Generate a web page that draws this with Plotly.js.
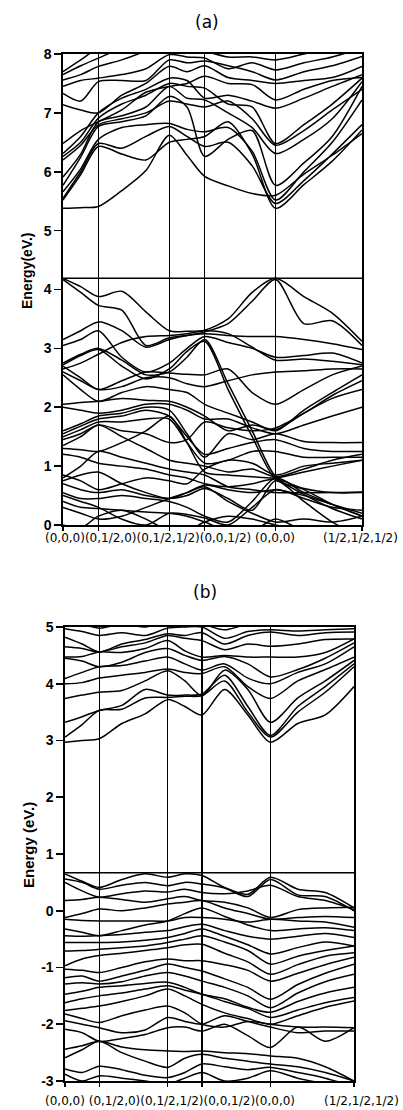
<!DOCTYPE html>
<html>
<head>
<meta charset="utf-8">
<script src="https://cdn.plot.ly/plotly-3.0.1.min.js"></script>
<style>html,body{margin:0;padding:0;background:#fff;}#chart{width:403px;height:1110px;}</style>
</head>
<body>
<div id="chart"></div>
<script>
// High-symmetry k-points (path positions) and their labels
const K_POINTS = [0, 0.5, 1.5, 2.0, 3.0, 4.22];
const K_LABELS = ["(0,0,0)", "(0,1/2,0)", "(0,1/2,1/2)", "(0,0,1/2)", "(0,0,0)", "(1/2,1/2,1/2)"];

// k positions at which each band energy was read
const XS = [0, 0.25, 0.5, 0.83, 1.17, 1.5, 1.75, 2.0, 2.33, 2.67, 3.0, 3.4, 3.8, 4.22];

// Panel (a): energies (eV)
const A_GAP_TOP = 4.19;
const A_Y_TICKS = [0, 1, 2, 3, 4, 5, 6, 7, 8];
const A_VALENCE = [
  [4.19, 4.05, 3.88, 3.97, 3.62, 3.30, 3.29, 3.31, 3.50, 3.95, 4.19, 3.88, 3.60, 3.12],
  [4.17, 3.95, 3.73, 3.65, 3.05, 3.18, 3.22, 3.28, 3.42, 3.80, 4.17, 3.42, 3.47, 3.05],
  [3.15, 3.30, 3.45, 3.30, 3.02, 3.15, 3.22, 3.25, 3.22, 3.20, 3.20, 3.15, 3.08, 2.98],
  [3.05, 3.15, 3.30, 2.85, 2.60, 2.75, 3.00, 3.20, 3.10, 3.00, 2.85, 2.88, 2.92, 2.75],
  [2.65, 2.75, 2.90, 3.10, 3.20, 3.22, 3.25, 3.30, 3.25, 3.02, 2.80, 2.82, 2.78, 2.72],
  [2.75, 2.90, 3.00, 2.80, 2.55, 2.60, 2.85, 3.15, 2.40, 1.60, 0.82, 0.52, 0.28, 0.10],
  [2.72, 2.88, 2.98, 2.70, 2.48, 2.65, 2.95, 3.12, 2.30, 1.50, 0.78, 0.60, 0.35, 0.15],
  [2.70, 2.50, 2.30, 2.45, 2.60, 2.58, 2.56, 2.55, 2.65, 2.25, 2.05, 2.30, 2.55, 2.70],
  [2.60, 2.45, 2.30, 2.35, 2.50, 2.50, 2.40, 2.35, 2.45, 2.55, 2.60, 2.62, 2.65, 2.65],
  [2.55, 2.30, 2.10, 2.25, 2.35, 2.30, 2.25, 2.05, 1.90, 1.75, 1.60, 1.95, 2.25, 2.55],
  [2.05, 2.08, 2.10, 2.15, 2.12, 2.10, 2.00, 1.85, 1.60, 1.70, 1.62, 1.90, 2.15, 2.30],
  [2.00, 1.95, 1.90, 1.95, 2.05, 2.05, 1.95, 1.80, 1.80, 1.65, 1.55, 1.70, 1.85, 2.00],
  [1.60, 1.72, 1.85, 1.90, 2.00, 1.95, 1.55, 1.15, 1.55, 1.45, 1.55, 1.42, 1.40, 1.40],
  [1.55, 1.68, 1.80, 1.85, 1.95, 1.85, 1.50, 1.20, 1.30, 1.40, 1.45, 1.30, 1.25, 1.25],
  [1.50, 1.62, 1.75, 1.75, 1.80, 1.80, 1.40, 1.05, 1.10, 1.25, 1.25, 1.15, 1.15, 1.15],
  [1.45, 1.55, 1.70, 1.60, 1.55, 1.40, 1.45, 1.75, 1.65, 1.60, 1.65, 1.90, 2.20, 2.45],
  [1.35, 1.50, 1.70, 1.50, 1.30, 1.10, 1.05, 1.00, 0.90, 0.95, 0.82, 0.95, 1.10, 1.20],
  [1.30, 1.28, 1.25, 1.40, 1.60, 1.85, 1.40, 0.90, 0.85, 0.82, 0.80, 0.90, 1.00, 1.10],
  [1.20, 1.15, 1.05, 1.00, 0.95, 0.85, 0.80, 0.70, 0.65, 0.70, 0.78, 0.62, 0.55, 0.55],
  [0.85, 0.75, 0.60, 0.70, 0.80, 0.75, 0.70, 0.95, 1.10, 1.05, 0.85, 1.00, 1.05, 1.10],
  [0.80, 1.00, 1.25, 1.15, 1.05, 0.95, 0.90, 0.85, 0.65, 0.60, 0.55, 0.55, 0.55, 0.56],
  [0.75, 0.85, 0.90, 0.70, 0.55, 0.45, 0.55, 0.68, 0.60, 0.55, 0.60, 0.50, 0.35, 0.20],
  [0.70, 0.60, 0.55, 0.60, 0.50, 0.45, 0.50, 0.62, 0.45, 0.25, 0.75, 0.40, 0.05, -0.20],
  [0.55, 0.45, 0.45, 0.50, 0.45, 0.40, 0.30, 0.15, 0.05, 0.40, 0.80, 0.55, 0.35, 0.15],
  [0.50, 0.40, 0.30, 0.10, 0.00, 0.20, 0.18, 0.12, 0.00, 0.30, 0.60, 0.45, 0.30, 0.25],
  [0.40, 0.30, 0.28, 0.25, 0.22, 0.20, 0.15, 0.05, -0.10, -0.10, 0.10, -0.10, -0.20, -0.30],
  [0.30, 0.20, 0.10, 0.15, 0.30, 0.45, 0.55, 0.65, 0.40, 0.20, 0.05, 0.10, 0.05, 0.15],
  [0.00, -0.05, 0.15, 0.25, 0.10, -0.10, -0.10, 0.05, 0.15, 0.10, 0.00, -0.10, -0.20, -0.30]
];
const A_CONDUCTION = [
  [5.38, 5.39, 5.41, 5.68, 6.02, 6.62, 6.28, 5.92, 5.76, 5.63, 5.60, 5.96, 6.28, 6.65],
  [5.52, 5.95, 6.43, 6.30, 6.20, 6.50, 6.55, 6.60, 6.85, 6.30, 5.38, 5.78, 6.18, 6.71],
  [5.55, 6.00, 6.48, 6.40, 6.60, 6.77, 6.60, 6.43, 6.50, 6.10, 5.46, 5.85, 6.30, 6.80],
  [5.66, 6.05, 6.55, 6.75, 6.80, 6.82, 6.72, 6.68, 6.75, 6.35, 5.52, 6.00, 6.50, 7.22],
  [5.77, 6.25, 6.77, 6.85, 6.95, 7.28, 7.10, 6.26, 6.55, 6.70, 5.77, 6.15, 6.60, 7.45],
  [5.91, 6.30, 6.85, 6.95, 7.10, 7.45, 7.25, 7.22, 7.00, 6.75, 6.31, 6.55, 6.90, 7.53],
  [6.20, 6.45, 6.80, 6.90, 7.00, 7.20, 7.15, 7.10, 7.20, 6.90, 6.45, 6.70, 7.05, 7.40],
  [6.26, 6.50, 6.91, 7.15, 7.30, 7.50, 7.45, 7.42, 7.15, 7.10, 6.48, 6.80, 7.15, 7.59],
  [6.31, 6.60, 7.00, 7.25, 7.40, 7.59, 7.55, 7.25, 7.30, 7.20, 7.08, 7.25, 7.45, 7.65],
  [6.48, 6.70, 6.85, 7.05, 7.35, 7.45, 7.50, 7.62, 7.50, 7.48, 7.22, 7.40, 7.55, 7.60],
  [7.14, 7.05, 7.00, 7.30, 7.50, 7.79, 7.70, 7.80, 7.60, 7.55, 7.50, 7.55, 7.60, 7.79],
  [7.33, 7.20, 7.53, 7.55, 7.55, 7.90, 7.85, 7.88, 7.80, 7.70, 7.56, 7.70, 7.80, 7.96],
  [7.45, 7.55, 7.59, 7.65, 7.75, 7.99, 7.95, 7.93, 7.75, 7.85, 7.73, 7.85, 7.95, 8.10],
  [7.56, 7.65, 7.79, 7.90, 8.05, 8.20, 8.10, 8.05, 7.95, 7.95, 7.90, 8.00, 8.10, 8.20],
  [7.65, 7.80, 7.93, 8.10, 8.20, 8.30, 8.20, 8.15, 8.10, 8.05, 8.05, 8.10, 8.20, 8.30],
  [7.70, 7.90, 8.10, 8.20, 8.25, 8.35, 8.30, 8.25, 8.20, 8.15, 8.15, 8.20, 8.30, 8.40]
];

// Panel (b): energies (eV)
const B_GAP_TOP = 0.67;
const B_Y_TICKS = [-3, -2, -1, 0, 1, 2, 3, 4, 5];
const B_VALENCE = [
  [0.65, 0.52, 0.41, 0.55, 0.65, 0.59, 0.65, 0.62, 0.41, 0.29, 0.59, 0.38, 0.32, 0.05],
  [0.56, 0.50, 0.38, 0.45, 0.50, 0.44, 0.50, 0.47, 0.40, 0.25, 0.55, 0.28, 0.25, 0.00],
  [0.50, 0.35, 0.24, 0.30, 0.35, 0.33, 0.38, 0.32, 0.30, 0.35, 0.45, 0.25, 0.18, 0.02],
  [0.18, 0.20, 0.24, 0.20, 0.15, 0.21, 0.25, 0.18, 0.15, 0.05, -0.12, 0.02, 0.05, 0.06],
  [-0.12, -0.05, 0.03, 0.00, 0.05, 0.12, 0.15, 0.18, 0.05, -0.05, -0.15, -0.12, -0.10, -0.12],
  [-0.15, -0.17, -0.18, -0.18, -0.18, -0.18, -0.12, -0.12, -0.15, -0.20, -0.15, -0.18, -0.20, -0.29],
  [-0.32, -0.38, -0.44, -0.35, -0.25, -0.18, -0.05, 0.05, -0.10, -0.25, -0.35, -0.32, -0.30, -0.35],
  [-0.44, -0.45, -0.44, -0.42, -0.38, -0.35, -0.28, -0.24, -0.35, -0.45, -0.50, -0.45, -0.40, -0.47],
  [-0.56, -0.56, -0.56, -0.55, -0.52, -0.47, -0.40, -0.32, -0.45, -0.60, -0.76, -0.65, -0.55, -0.62],
  [-0.71, -0.70, -0.68, -0.65, -0.62, -0.56, -0.50, -0.44, -0.55, -0.70, -0.94, -0.80, -0.70, -0.62],
  [-0.97, -0.85, -0.79, -0.75, -0.70, -0.65, -0.60, -0.59, -0.75, -0.90, -1.12, -0.95, -0.80, -0.74],
  [-1.03, -1.05, -1.09, -1.00, -0.90, -0.85, -0.88, -0.88, -0.95, -1.05, -1.24, -1.10, -0.95, -0.82],
  [-1.18, -1.15, -1.24, -1.15, -1.05, -0.94, -1.00, -1.06, -1.20, -1.35, -1.56, -1.30, -1.10, -0.94],
  [-1.29, -1.27, -1.29, -1.25, -1.15, -1.09, -1.15, -1.24, -1.35, -1.50, -1.71, -1.45, -1.25, -1.12],
  [-1.47, -1.42, -1.35, -1.32, -1.28, -1.26, -1.35, -1.47, -1.55, -1.70, -1.79, -1.60, -1.45, -1.35],
  [-1.62, -1.55, -1.50, -1.45, -1.38, -1.32, -1.40, -1.47, -1.60, -1.72, -1.88, -1.75, -1.62, -1.53],
  [-1.76, -1.72, -1.68, -1.60, -1.50, -1.38, -1.50, -1.65, -1.80, -1.90, -2.00, -1.85, -1.70, -1.59],
  [-1.82, -1.90, -1.97, -1.85, -1.75, -1.68, -1.80, -2.00, -2.05, -1.95, -2.00, -2.05, -2.05, -2.06],
  [-1.94, -2.00, -2.06, -2.15, -2.10, -1.88, -1.95, -2.00, -1.85, -1.95, -2.05, -2.15, -2.12, -2.12],
  [-2.09, -2.15, -2.30, -2.25, -2.18, -2.06, -2.05, -2.12, -2.00, -2.20, -2.41, -2.05, -2.30, -2.06],
  [-2.44, -2.38, -2.30, -2.40, -2.45, -2.47, -2.48, -2.47, -2.50, -2.52, -2.56, -2.60, -2.75, -3.00],
  [-2.59, -2.45, -2.30, -2.50, -2.65, -2.76, -2.60, -2.53, -2.60, -2.65, -2.70, -2.75, -2.85, -3.00],
  [-2.79, -2.85, -2.74, -2.80, -2.90, -2.94, -2.85, -2.70, -2.75, -2.80, -2.76, -2.85, -2.95, -3.10],
  [-2.88, -3.00, -2.91, -2.95, -3.00, -3.05, -2.95, -2.85, -3.00, -2.95, -2.82, -2.95, -3.05, -3.15]
];
const B_CONDUCTION = [
  [2.97, 3.00, 3.03, 3.30, 3.47, 3.72, 3.60, 3.45, 3.90, 3.45, 2.97, 3.30, 3.45, 3.95],
  [3.06, 3.28, 3.53, 3.55, 3.75, 3.76, 3.78, 3.79, 4.05, 3.50, 3.06, 3.50, 3.85, 4.30],
  [3.32, 3.42, 3.53, 3.62, 3.90, 3.80, 3.80, 3.82, 4.15, 3.60, 3.09, 3.60, 3.95, 4.35],
  [3.74, 3.80, 3.85, 3.88, 4.05, 4.23, 4.05, 3.79, 4.24, 3.90, 3.32, 3.75, 4.05, 4.41],
  [4.00, 4.02, 4.10, 4.15, 4.20, 4.26, 4.20, 4.18, 4.30, 3.95, 3.74, 4.05, 4.25, 4.47],
  [4.09, 4.20, 4.30, 4.32, 4.40, 4.47, 4.35, 4.24, 4.35, 4.10, 4.00, 4.20, 4.35, 4.65],
  [4.45, 4.40, 4.30, 4.38, 4.55, 4.62, 4.50, 4.41, 4.48, 4.35, 4.12, 4.25, 4.45, 4.72],
  [4.47, 4.48, 4.56, 4.55, 4.62, 4.76, 4.58, 4.47, 4.50, 4.47, 4.47, 4.47, 4.55, 4.79],
  [4.65, 4.62, 4.56, 4.65, 4.72, 4.85, 4.80, 4.76, 4.60, 4.70, 4.66, 4.70, 4.78, 4.79],
  [4.82, 4.70, 4.56, 4.70, 4.78, 4.88, 4.85, 4.90, 4.70, 4.85, 4.91, 4.85, 4.90, 4.91],
  [4.97, 4.92, 4.85, 4.90, 4.85, 4.98, 5.00, 5.00, 4.80, 4.92, 4.95, 4.93, 4.95, 4.97],
  [5.10, 5.05, 4.98, 5.05, 5.00, 5.10, 5.10, 5.05, 4.95, 5.05, 5.05, 5.05, 5.05, 5.05]
];

const LINE = {color: '#000', width: 1.5, shape: 'spline', smoothing: 0.8};
function bandTraces(bands, xa, ya) {
  return bands.map(function (b) {
    return {x: XS, y: b, xaxis: xa, yaxis: ya, type: 'scatter', mode: 'lines',
            line: LINE, hoverinfo: 'skip', showlegend: false};
  });
}

const traces = [].concat(
  bandTraces(A_VALENCE, 'x', 'y'),
  bandTraces(A_CONDUCTION, 'x', 'y'),
  bandTraces(B_VALENCE, 'x2', 'y2'),
  bandTraces(B_CONDUCTION, 'x2', 'y2')
);

const W = 403, H = 1110;
const tickFont = {family: 'Liberation Sans, Arial, sans-serif', size: 14, color: '#000', weight: 'bold'};
function xAxis(domain) {
  return {domain: domain, range: [K_POINTS[0], K_POINTS[K_POINTS.length - 1]],
          tickvals: K_POINTS, showticklabels: false, ticks: 'outside', ticklen: 4,
          tickcolor: '#000', tickwidth: 1.3, showgrid: true, gridcolor: '#000', gridwidth: 1.4,
          showline: true, linecolor: '#000', linewidth: 1.6, mirror: true, zeroline: false,
          fixedrange: true};
}
function yAxis(domain, ticks) {
  return {domain: domain, range: [ticks[0], ticks[ticks.length - 1]],
          tickvals: ticks, ticktext: ticks.map(String), ticks: 'outside', ticklen: 7,
          tickcolor: '#000', tickwidth: 1.6, tickfont: tickFont, showgrid: false,
          showline: true, linecolor: '#000', linewidth: 1.6, mirror: true, zeroline: false,
          fixedrange: true};
}

const labelFont = {family: 'DejaVu Sans, sans-serif', size: 12, color: '#000'};
const labelsA = K_LABELS.slice(0, 4).join('') + ' ' + K_LABELS[4];
const labelsB = K_LABELS[0] + ' ' + K_LABELS.slice(1, 5).join('');

const layout = {
  width: W, height: H,
  margin: {l: 0, r: 0, t: 0, b: 0},
  paper_bgcolor: '#fff', plot_bgcolor: '#fff',
  showlegend: false,
  xaxis: Object.assign(xAxis([63 / W, 362 / W]), {anchor: 'y'}),
  yaxis: Object.assign(yAxis([1 - 525 / H, 1 - 54 / H], A_Y_TICKS), {anchor: 'x'}),
  xaxis2: Object.assign(xAxis([65 / W, 354 / W]), {anchor: 'y2'}),
  yaxis2: Object.assign(yAxis([1 - 1081 / H, 1 - 627 / H], B_Y_TICKS), {anchor: 'x2'}),
  shapes: [
    {type: 'line', xref: 'x domain', yref: 'y', x0: 0, x1: 1, y0: A_GAP_TOP, y1: A_GAP_TOP,
     line: {color: '#000', width: 1.4}},
    {type: 'line', xref: 'x2 domain', yref: 'y2', x0: 0, x1: 1, y0: B_GAP_TOP, y1: B_GAP_TOP,
     line: {color: '#000', width: 1.4}}
  ],
  annotations: [
    {text: '(a)', xref: 'paper', yref: 'paper', x: 207 / W, y: 1 - 22 / H, showarrow: false,
     xanchor: 'center', yanchor: 'middle', font: {family: 'DejaVu Sans, sans-serif', size: 17, color: '#000'}},
    {text: '(b)', xref: 'paper', yref: 'paper', x: 205 / W, y: 1 - 592 / H, showarrow: false,
     xanchor: 'center', yanchor: 'middle', font: {family: 'DejaVu Sans, sans-serif', size: 17, color: '#000'}},
    {text: labelsA, xref: 'paper', yref: 'paper', x: 43 / W, y: 1 - 538 / H, showarrow: false,
     xanchor: 'left', yanchor: 'middle', font: labelFont},
    {text: K_LABELS[5], xref: 'paper', yref: 'paper', x: 360 / W, y: 1 - 538 / H, showarrow: false,
     xanchor: 'center', yanchor: 'middle', font: labelFont},
    {text: labelsB, xref: 'paper', yref: 'paper', x: 43 / W, y: 1 - 1101 / H, showarrow: false,
     xanchor: 'left', yanchor: 'middle', font: labelFont},
    {text: K_LABELS[5], xref: 'paper', yref: 'paper', x: 361 / W, y: 1 - 1101 / H, showarrow: false,
     xanchor: 'center', yanchor: 'middle', font: labelFont},
    {text: 'Energy(eV.)', xref: 'paper', yref: 'paper', x: 27 / W, y: 1 - 270 / H, showarrow: false,
     textangle: -90, xanchor: 'center', yanchor: 'middle',
     font: {family: 'Liberation Sans, Arial, sans-serif', size: 14, color: '#000', weight: 'bold'}},
    {text: 'Energy (eV.)', xref: 'paper', yref: 'paper', x: 28 / W, y: 1 - 845 / H, showarrow: false,
     textangle: -90, xanchor: 'center', yanchor: 'middle',
     font: {family: 'Liberation Sans, Arial, sans-serif', size: 15, color: '#000', weight: 'bold'}}
  ]
};

Plotly.newPlot('chart', traces, layout, {staticPlot: true, displayModeBar: false});
</script>
</body>
</html>
